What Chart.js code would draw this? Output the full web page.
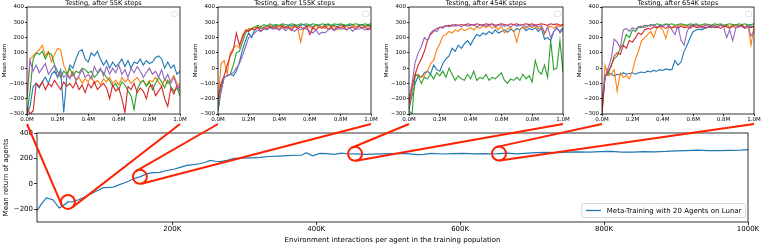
<!DOCTYPE html>
<html>
<head>
<meta charset="utf-8">
<script src="https://cdn.jsdelivr.net/npm/chart.js@4/dist/chart.umd.min.js"></script>
<style>
  body { margin: 0; background: #fff; width: 761px; height: 244px; overflow: hidden; position: relative; }
  canvas { position: absolute; }
</style>
</head>
<body>
<canvas id="p0"></canvas>
<canvas id="p1"></canvas>
<canvas id="p2"></canvas>
<canvas id="p3"></canvas>
<canvas id="main"></canvas>
<canvas id="zoomLines" width="761" height="244" style="left:0;top:0;z-index:10;pointer-events:none"></canvas>
<script>
// ---- data ----

// x positions (K env. steps) of the test curves
const testX = [0,20,40,60,80,100,120,140,160,180,200,220,240,260,280,300,320,340,360,380,400,420,440,460,480,500,520,540,560,580,600,620,640,660,680,700,720,740,760,780,800,820,840,860,880,900,920,940,960,980,1000];
const testXTicks = [0, 200, 400, 600, 800, 1000];
const testYTicks = [-300, -200, -100, 0, 100, 200, 300, 400];

// testing after 55K steps
const t55_1 = [-300,-250,-120,-100,-130,-90,-60,-100,-40,-20,
  -60,-10,-290,-60,20,0,60,110,120,60,
  40,100,80,110,60,20,50,0,40,10,
  30,60,10,50,0,40,30,60,20,50,
  30,40,70,80,60,0,40,0,20,-40,
  -20];
const t55_2 = [-200,60,80,100,120,150,80,110,40,90,
  130,120,20,-30,-60,-20,-80,-60,-100,-70,
  -90,-50,-100,-80,-110,-70,-90,-60,-100,-80,
  -110,-60,-90,-70,-100,-80,-60,-90,-80,-110,
  -80,-90,-60,-90,-120,-70,-100,-80,-50,-100,
  -110];
const t55_3 = [-300,-150,60,100,90,110,60,100,90,20,
  -20,-60,-20,-40,0,-50,-20,-30,0,-10,
  -30,-20,-60,-40,-10,-30,-60,-80,-120,-100,
  -140,-90,-110,-150,-180,-270,-140,-100,-80,-120,
  -90,-140,-100,-60,-90,-130,-80,-120,-150,-130,
  -180];
const t55_4 = [-250,-300,-280,-100,-120,-90,-140,-100,-120,-80,
  -110,-140,-90,-120,-100,-130,-90,-140,-110,-160,
  -100,-130,-90,-140,-120,-100,-130,-200,-110,-150,
  -130,-200,-290,-120,-140,-100,-160,-130,-150,-200,
  -120,-110,-180,-150,-120,-200,-250,-130,-170,-110,
  -130];
const t55_5 = [-200,50,-20,20,-30,0,30,-40,-10,20,
  -60,-20,-60,-40,-70,-30,-80,-50,-10,-60,
  -40,-70,10,-30,0,-50,10,-40,0,-30,
  20,-40,-10,-60,0,-30,10,-20,-60,-30,
  0,-40,-20,-60,-10,-80,-40,-100,-60,-120,
  -150];

// testing after 155K steps
const t155_1 = [-280,-150,-60,-50,-40,-50,-20,40,120,180,
  230,200,250,270,260,270,280,265,275,280,
  270,285,270,280,275,285,270,280,285,275,
  280,270,285,280,270,280,285,275,280,270,
  285,280,275,280,285,270,280,285,275,280,
  280];
const t155_2 = [-230,30,50,-40,100,130,150,130,220,240,
  260,250,270,260,275,255,270,280,260,275,
  270,280,265,275,260,280,270,170,260,275,
  270,255,280,265,275,260,280,270,275,250,
  280,270,275,260,280,270,275,265,280,270,
  275];
const t155_3 = [-280,-120,-60,-50,-40,20,100,110,170,230,
  250,260,270,280,270,285,275,290,280,285,
  280,290,285,280,290,285,280,290,285,290,
  280,290,285,280,290,285,290,280,290,285,
  290,285,280,290,285,290,285,280,290,285,
  290];
const t155_4 = [-200,-100,-50,20,80,120,230,150,200,250,
  240,260,250,270,240,265,255,275,260,270,
  250,275,260,270,245,275,260,270,255,275,
  220,265,250,270,260,275,255,270,250,270,
  260,275,250,265,270,255,275,260,270,250,
  270];
const t155_5 = [-250,-150,-60,-50,-40,-30,0,30,80,140,
  200,210,230,250,240,260,250,265,255,260,
  250,265,245,260,255,240,260,250,265,255,
  240,230,250,220,235,230,250,260,245,265,
  255,260,250,265,240,260,255,265,250,260,
  255];

// testing after 454K steps
const t454_1 = [-270,-180,-100,-50,-60,-30,-20,-40,20,-10,
  -20,30,60,80,130,110,150,130,160,180,
  150,190,220,210,230,220,240,225,250,230,
  240,250,235,255,240,260,250,270,245,260,
  250,265,240,260,190,200,180,240,260,240,
  265];
const t454_2 = [-250,-150,-50,-40,-60,-50,-20,30,50,120,
  160,210,220,240,230,250,240,260,245,255,
  265,250,270,260,275,265,280,260,270,250,
  275,230,260,265,240,170,250,270,260,275,
  265,280,255,270,220,265,275,260,280,270,
  285];
const t454_3 = [-280,-300,-40,-50,-100,-60,-70,-40,-70,-30,
  -50,-20,-60,0,-40,-80,-50,-70,-80,-40,
  -70,-20,-80,-60,-70,-40,-80,-60,-70,-50,
  -30,-80,-100,-70,-80,-60,-80,-40,-70,-50,
  -90,50,-20,-40,20,-60,180,-10,0,180,
  -30];
const t454_4 = [-230,-120,-40,20,60,110,180,220,240,260,
  265,270,275,280,275,285,280,285,280,290,
  285,280,290,285,280,290,285,290,280,285,
  290,285,280,290,285,290,280,285,290,285,
  290,280,285,290,285,280,290,285,290,280,
  285];
const t454_5 = [-200,-100,40,100,140,200,180,230,250,240,
  270,260,280,270,285,275,280,270,285,275,
  280,285,270,280,285,275,280,285,270,280,
  285,275,280,270,285,275,280,285,270,280,
  275,285,270,280,230,270,200,240,270,230,
  250];

// testing after 654K steps
const t654_1 = [-250,-50,-30,-40,-50,-40,-45,-30,-40,-35,
  -30,-40,-30,-25,-30,-20,-25,-15,-20,-10,
  -15,-5,-10,-10,50,20,40,110,150,200,
  240,250,255,250,265,270,265,275,270,280,
  275,280,270,280,285,275,280,270,280,275,
  270];
const t654_2 = [-280,20,-50,-40,-10,-150,-30,-60,-50,-70,
  -20,60,110,180,200,220,240,200,260,270,
  250,195,270,265,280,270,285,275,280,270,
  285,275,280,270,285,275,280,270,285,280,
  275,285,270,280,285,275,280,270,285,150,
  270];
const t654_3 = [-300,-50,-40,20,60,80,130,160,220,200,
  250,240,270,265,280,275,285,280,290,285,
  280,290,285,290,280,285,290,285,280,290,
  285,290,280,285,290,285,280,290,285,290,
  280,285,290,285,280,290,285,290,280,285,
  290];
const t654_4 = [-290,-60,-20,10,80,100,90,150,130,180,
  170,200,230,220,250,260,255,270,265,275,
  270,260,275,265,270,260,275,265,270,260,
  280,265,270,275,260,270,280,265,270,260,
  275,270,260,275,265,270,280,260,270,265,
  275];
const t654_5 = [-200,-60,0,60,190,170,130,250,260,240,
  265,255,270,275,265,280,275,285,270,280,
  275,285,280,250,220,280,180,150,240,280,
  270,285,275,260,280,285,270,280,265,285,
  270,200,250,180,260,280,270,260,285,210,
  240];

// meta-training curve
const trainK = [12,18,25,34,43,50,55,62,70,76,83,90,97,104,111,118,125,132,139,146,
  155,165,174,183,192,202,211,220,230,239,246,253,260,267,276,286,298,310,322,335,
  348,360,372,380,386,395,405,415,425,435,445,454,468,480,492,505,518,530,540,550,
  560,575,590,605,620,635,645,654,665,678,690,705,720,735,750,765,780,795,810,825,
  840,855,870,885,900,915,930,945,960,975,990,1000];
const trainReturn = [-210,-160,-110,-125,-190,-165,-142,-140,-125,-110,-90,-70,-50,-30,-28,-25,-10,5,20,40,
  55,80,88,90,105,115,130,145,152,160,170,185,178,175,185,200,202,205,208,215,
  218,222,225,225,245,220,240,238,232,242,235,236,232,234,236,238,240,236,230,232,
  240,235,238,240,236,238,235,238,242,236,240,245,248,246,250,252,250,254,255,250,
  250,254,252,255,260,262,265,262,262,264,266,270];
const trainXTicks = [200, 400, 600, 800, 1000];
const trainYTicks = [-200, 0, 200, 400];

const zoomSteps = [55, 155, 454, 654];
const panelTitles = ['Testing, after 55K steps', 'Testing, after 155K steps', 'Testing, after 454K steps', 'Testing, after 654K steps'];
const panelSeries = [
  [t55_1, t55_2, t55_3, t55_4, t55_5],
  [t155_1, t155_2, t155_3, t155_4, t155_5],
  [t454_1, t454_2, t454_3, t454_4, t454_5],
  [t654_1, t654_2, t654_3, t654_4, t654_5]
];
const colors = ['#1f77b4', '#ff7f0e', '#2ca02c', '#d62728', '#9467bd'];

// ---- layout ----
Chart.defaults.font.family = 'DejaVu Sans';
Chart.defaults.color = '#000';
const panelLeft = [27, 218, 409, 602];
const panelRight = [180, 371, 563, 754];
const yAxisW = 27, padR = 8;

const minus = v => String(v).replace('-', '\u2212');

const frame = {
  id: 'frame',
  afterDraw(chart, args, opts) {
    const { ctx, chartArea: a } = chart;
    ctx.save();
    ctx.strokeStyle = '#000';
    ctx.lineWidth = 0.8;
    ctx.strokeRect(a.left, a.top, a.right - a.left, a.bottom - a.top);
    if (opts.title) {
      ctx.fillStyle = '#000';
      ctx.font = opts.titleSize + 'px DejaVu Sans';
      ctx.textAlign = 'center';
      ctx.fillText(opts.title, (a.left + a.right) / 2, opts.titleY);
    }
    if (opts.emptyLegend) {
      ctx.strokeStyle = '#ddd';
      ctx.lineWidth = 0.8;
      ctx.beginPath();
      ctx.roundRect(a.right - 8.5, a.top + 4.5, 6, 5, 1.2);
      ctx.stroke();
    }
    if (opts.legend) {
      const ds = chart.data.datasets[0];
      ctx.font = '7px DejaVu Sans';
      const tw = ctx.measureText(ds.label).width;
      const w = tw + 29, h = 14;
      const x = a.right - 2.5 - w, y = a.bottom - 4.5 - h;
      ctx.fillStyle = 'rgba(255,255,255,0.8)';
      ctx.strokeStyle = '#ccc';
      ctx.beginPath();
      ctx.roundRect(x, y, w, h, 2);
      ctx.fill();
      ctx.stroke();
      ctx.strokeStyle = ds.borderColor;
      ctx.lineWidth = 1.3;
      ctx.beginPath();
      ctx.moveTo(x + 4, y + h / 2);
      ctx.lineTo(x + 19, y + h / 2);
      ctx.stroke();
      ctx.fillStyle = '#000';
      ctx.textAlign = 'left';
      ctx.textBaseline = 'middle';
      ctx.fillText(ds.label, x + 25, y + h / 2 + 0.5);
    }
    ctx.restore();
  }
};

const panels = [];
panelSeries.forEach((series, i) => {
  const cv = document.getElementById('p' + i);
  const w = panelRight[i] - panelLeft[i] + yAxisW + padR;
  cv.width = w; cv.height = 124;
  cv.style.left = (panelLeft[i] - yAxisW) + 'px';
  cv.style.top = '0px';
  panels.push(new Chart(cv, {
    type: 'line',
    data: {
      datasets: series.map((vals, k) => ({
        data: testX.map((x, j) => ({ x: x, y: vals[j] })),
        borderColor: colors[k],
        borderWidth: 1.1,
        pointRadius: 0,
        order: 4 - k
      }))
    },
    options: {
      responsive: false,
      animation: false,
      layout: { padding: { left: 0, right: padR, top: 7, bottom: 0 } },
      plugins: {
        legend: { display: false },
        tooltip: { enabled: false },
        frame: { title: panelTitles[i], titleSize: 6.5, titleY: 4.5, emptyLegend: true }
      },
      scales: {
        x: {
          type: 'linear', min: 0, max: 1000,
          afterBuildTicks: s => { s.ticks = testXTicks.map(v => ({ value: v })); },
          afterFit: s => { s.height = 10; },
          grid: { drawOnChartArea: false, drawTicks: true, tickLength: 2, color: '#000', lineWidth: 0.8 },
          border: { display: false },
          ticks: { font: { size: 5.5 }, padding: 0, maxRotation: 0, autoSkip: false,
            callback: v => (v / 1000).toFixed(1) + 'M' }
        },
        y: {
          min: -300, max: 400,
          afterBuildTicks: s => { s.ticks = testYTicks.map(v => ({ value: v })); },
          afterFit: s => { s.width = yAxisW; },
          grid: { drawOnChartArea: false, drawTicks: true, tickLength: 2, color: '#000', lineWidth: 0.8 },
          border: { display: false },
          title: { display: true, text: 'Mean return', font: { size: 5.5 }, padding: { top: 1, bottom: 0 } },
          ticks: { font: { size: 5.5 }, padding: 1, callback: minus }
        }
      }
    },
    plugins: [frame]
  }));
});

const mainCv = document.getElementById('main');
mainCv.width = 761; mainCv.height = 119;
mainCv.style.left = '0px';
mainCv.style.top = '125px';
const mainChart = new Chart(mainCv, {
  type: 'line',
  data: {
    datasets: [{
      label: 'Meta-Training with 20 Agents on Lunar',
      data: trainK.map((x, j) => ({ x: x, y: trainReturn[j] })),
      borderColor: '#1f77b4',
      borderWidth: 1.2,
      pointRadius: 0
    }]
  },
  options: {
    responsive: false,
    animation: false,
    layout: { padding: { left: 0, right: 13, top: 8, bottom: 0 } },
    plugins: {
      legend: { display: false },
      tooltip: { enabled: false },
      frame: { legend: true }
    },
    scales: {
      x: {
        type: 'linear', min: 12, max: 1000,
        afterBuildTicks: s => { s.ticks = trainXTicks.map(v => ({ value: v })); },
        afterFit: s => { s.height = 22; },
        grid: { drawOnChartArea: false, drawTicks: true, tickLength: 3, color: '#000', lineWidth: 0.8 },
        border: { display: false },
        title: { display: true, text: 'Environment interactions per agent in the training population',
          font: { size: 7 }, padding: { top: 0, bottom: 0 } },
        ticks: { font: { size: 7 }, padding: 0, maxRotation: 0, autoSkip: false, callback: v => v + 'K' }
      },
      y: {
        min: -300, max: 400,
        afterBuildTicks: s => { s.ticks = trainYTicks.map(v => ({ value: v })); },
        afterFit: s => { s.width = 37; },
        grid: { drawOnChartArea: false, drawTicks: true, tickLength: 3, color: '#000', lineWidth: 0.8 },
        border: { display: false },
        title: { display: true, text: 'Mean return of agents', font: { size: 7 }, padding: { top: 2, bottom: 0 } },
        ticks: { font: { size: 7 }, padding: 1, callback: minus }
      }
    }
  },
  plugins: [frame]
});

// ---- zoom circles and connector lines ----
const ov = document.getElementById('zoomLines').getContext('2d');
ov.strokeStyle = '#ff2200';
ov.lineWidth = 2;
const r = 7;
zoomSteps.forEach((step, i) => {
  const j = trainK.indexOf(step);
  const cx = mainChart.scales.x.getPixelForValue(step);
  const cy = mainChart.scales.y.getPixelForValue(trainReturn[j]) + 125;
  ov.beginPath();
  ov.arc(cx, cy, r, 0, Math.PI * 2);
  ov.stroke();
  const top = panels[i].chartArea.bottom + 10;
  [[panelLeft[i], 1], [panelRight[i], -1]].forEach(([px, side]) => {
    let dx = cx - px, dy = cy - top;
    const len = Math.hypot(dx, dy);
    dx /= len; dy /= len;
    const ex = cx + r * (-dy) * side, ey = cy + r * dx * side;
    ov.beginPath();
    ov.moveTo(px, top);
    ov.lineTo(ex, ey);
    ov.stroke();
  });
});
</script>
</body>
</html>
